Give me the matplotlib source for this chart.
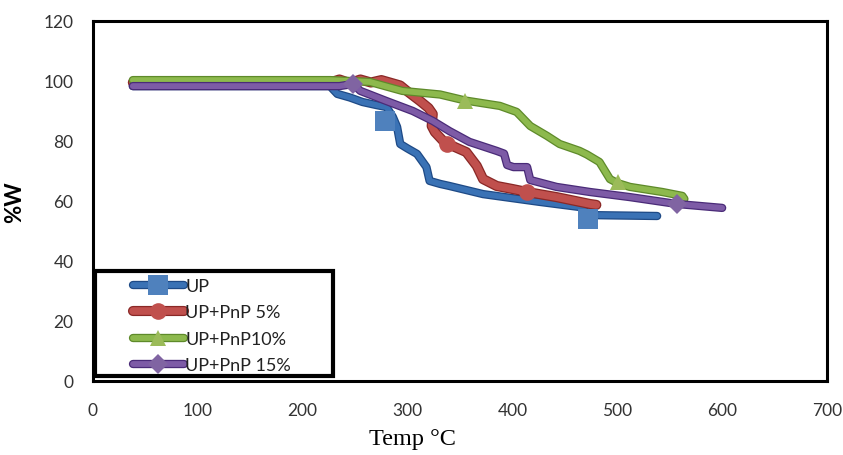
import matplotlib
matplotlib.use("Agg")
import matplotlib.pyplot as plt
import matplotlib.patheffects as pe
from matplotlib.patches import Rectangle
from matplotlib.legend_handler import HandlerTuple

# ---------------- data ----------------
labels = ["UP", "UP+PnP 5%", "UP+PnP10%", "UP+PnP 15%"]

up_x = [38, 226, 233, 245, 257, 270, 280, 286, 290, 293, 300, 309, 318, 321, 331, 340, 372, 426, 464, 475, 538]
up_y = [98.3, 98.3, 95.7, 94.5, 93, 92, 91.3, 88, 84.7, 79, 77.5, 75.7, 71.3, 66.7, 65.7, 65, 62.3, 59.7, 58, 55.3, 55]
up_mx = [278, 472]
up_my = [86.7, 54]

p5_x = [38, 226, 235, 245, 255, 265, 275, 285, 293, 300, 312, 320, 324, 323, 326, 334, 345, 356, 366, 372, 385, 400, 414, 442, 474, 480]
p5_y = [99.5, 99.5, 100.5, 99.3, 100.5, 99.5, 100.3, 99.3, 98.5, 96.5, 93.3, 91, 89, 85, 83, 80, 78, 76.3, 71.7, 67.3, 65, 64, 63, 61.3, 59, 58.7]
p5_mx = [338, 414]
p5_my = [79, 63]

p10_x = [38, 226, 264, 295, 331, 355, 388, 404, 417, 433, 445, 464, 471, 483, 493, 500, 512, 543, 562, 564]
p10_y = [100.3, 100.3, 99.7, 96.7, 95.5, 93.5, 91.7, 89.7, 85, 81.7, 79, 76.7, 75.5, 73, 67.3, 66, 64.7, 63, 61.7, 60.7]
p10_mx = [355, 501]
p10_my = [93.3, 66.3]

p15_x = [38, 226, 235, 248, 255, 280, 305, 324, 340, 359, 385, 392, 395, 401, 414, 417, 442, 474, 512, 557, 600]
p15_y = [98.3, 98.3, 98.3, 99, 96.7, 93.3, 90, 86.7, 83.3, 79.7, 76.7, 75.8, 72, 71.3, 71.3, 67, 64.7, 63, 61.3, 59, 57.7]
p15_mx = [248, 557]
p15_my = [99, 59]

x_ticks = [0, 100, 200, 300, 400, 500, 600, 700]
y_ticks = [0, 20, 40, 60, 80, 100, 120]

# ---------------- style ----------------
series = [
    (up_x, up_y, up_mx, up_my, "#3A72B5", "#1E4A86", "#4F81BD", "s", 14, 4.2),
    (p5_x, p5_y, p5_mx, p5_my, "#C0504D", "#8A2826", "#C0504D", "o", 12, 5.5),
    (p10_x, p10_y, p10_mx, p10_my, "#8DB94D", "#5E8A2A", "#9BBB59", "^", 12, 4.2),
    (p15_x, p15_y, p15_mx, p15_my, "#7D5BA6", "#4A2B78", "#8064A2", "D", 10, 4.2),
]

fig = plt.figure(figsize=(8.43, 4.56), dpi=100)
ax = fig.add_axes([93 / 843, 1 - 382 / 456, 734 / 843, 360 / 456])

handles = []
for (xs, ys, mx, my, lc, ec, mc, mk, ms, lw) in series:
    ln, = ax.plot(xs, ys, color=lc, lw=lw, solid_capstyle="round", solid_joinstyle="round",
                  path_effects=[pe.Stroke(linewidth=lw + 1.8, foreground=ec), pe.Normal()], zorder=2)
    handles.append(ln)

mhandles = []
for (xs, ys, mx, my, lc, ec, mc, mk, ms, lw) in series:
    mh, = ax.plot(mx, my, linestyle="none", marker=mk, markersize=ms, color=mc,
                  markeredgewidth=0, zorder=3)
    mhandles.append(mh)

ax.set_xlim(0, 700)
ax.set_ylim(0, 120)
ax.set_xticks(x_ticks)
ax.set_yticks(y_ticks)
ax.tick_params(length=0, labelsize=12.5, labelcolor="#333333", pad=14)
ax.tick_params(axis="x", pad=15)
for t in ax.get_xticklabels() + ax.get_yticklabels():
    t.set_fontfamily("Lato")
for s in ax.spines.values():
    s.set_linewidth(2.2)
    s.set_color("black")

ax.set_ylabel("%W", fontsize=16, fontweight="bold", family="Lato")
ax.yaxis.set_label_coords((25 - 93) / 734, 0.5)
ax.set_xlabel("Temp °C", fontsize=17.5, family="Liberation Serif")
ax.xaxis.set_label_coords((412 - 93) / 734, (382 - 429) / 360)

# legend box
box = Rectangle(((95 - 93) / 734, (382 - 377) / 360), (333 - 95) / 734, (377 - 272) / 360,
                transform=ax.transAxes, facecolor="white", edgecolor="black", lw=3, zorder=4)
ax.add_patch(box)
leg = ax.legend([(h, m) for h, m in zip(handles, mhandles)], labels,
                handler_map={tuple: HandlerTuple(ndivide=1, pad=0)},
                loc="upper left", bbox_to_anchor=((133 - 93) / 734, (382 - 279) / 360),
                frameon=False, borderpad=0, borderaxespad=0, handlelength=2.8,
                handletextpad=0.1, labelspacing=0.58,
                prop={"family": "Lato", "size": 13})
leg.set_zorder(5)
for t in leg.get_texts():
    t.set_color("#222222")

fig.savefig("out.png", dpi=100)
